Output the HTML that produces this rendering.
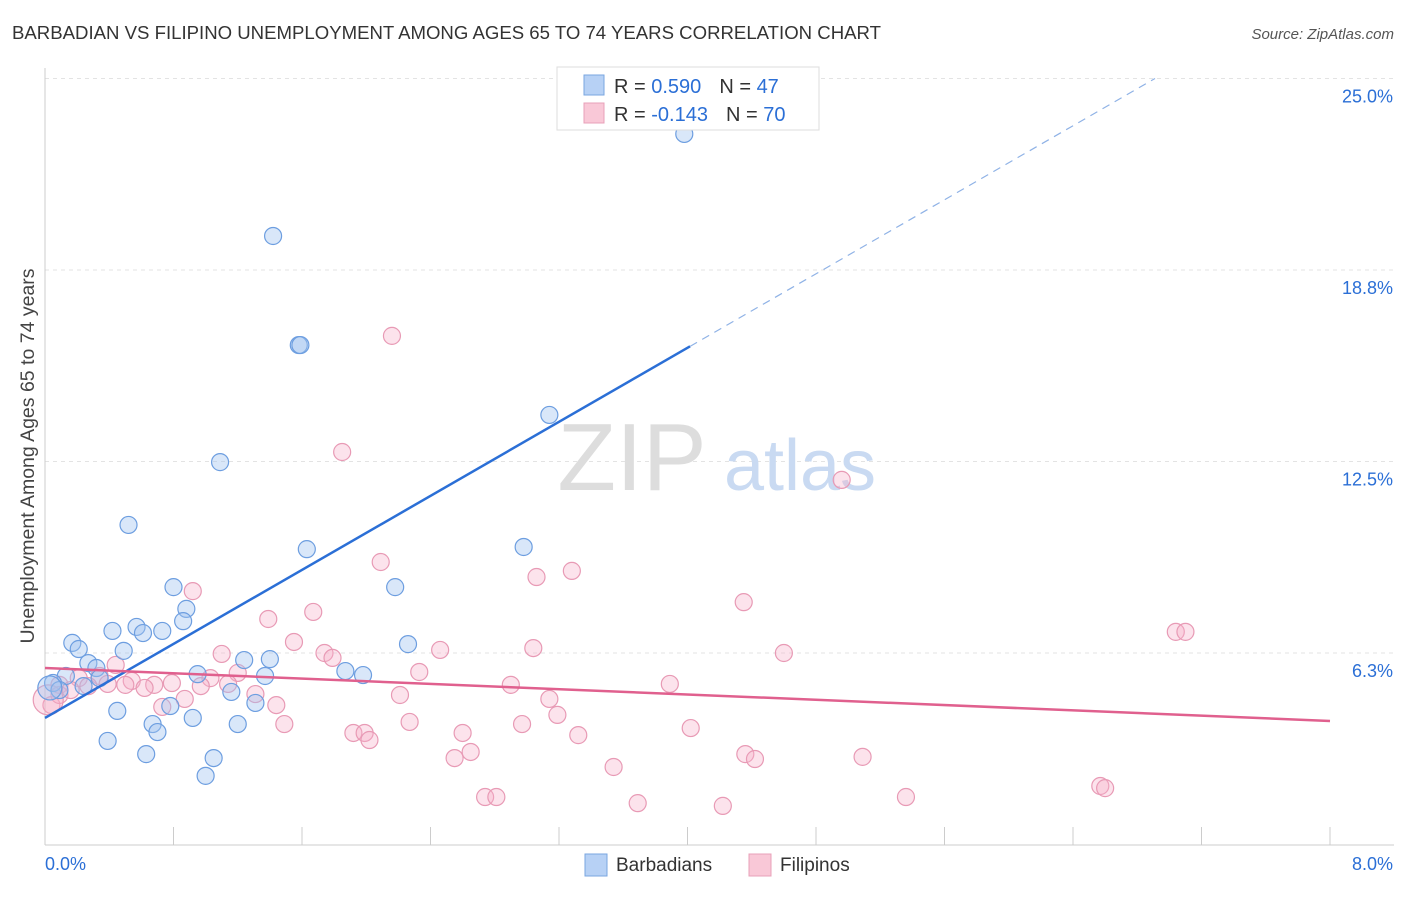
<!DOCTYPE html>
<html><head><meta charset="utf-8"><style>
body{margin:0;background:#fff;font-family:"Liberation Sans",sans-serif;}
svg text{font-family:"Liberation Sans",sans-serif;}
</style></head><body>
<svg id="chart" width="1406" height="892" xmlns="http://www.w3.org/2000/svg">
<text x="12" y="39" font-size="18.6" fill="#333">BARBADIAN VS FILIPINO UNEMPLOYMENT AMONG AGES 65 TO 74 YEARS CORRELATION CHART</text>
<text x="1394" y="39" font-size="15" fill="#555" text-anchor="end" font-style="italic">Source: ZipAtlas.com</text>
<text transform="translate(34,456) rotate(-90)" font-size="19.5" fill="#444" text-anchor="middle">Unemployment Among Ages 65 to 74 years</text>
<g id="grid"></g>
<g id="axes"></g>
<g>
<text x="632" y="490" font-size="96" fill="#ddd" font-family="Liberation Serif" text-anchor="middle">ZIP</text>
<text x="800" y="490" font-size="72" fill="#c9daf2" text-anchor="middle">atlas</text>
</g>
<g id="pts"></g>
<g id="trends"></g>
<g>
<rect x="557" y="67" width="262" height="63" fill="#fff" stroke="#ddd"/>
<rect x="584" y="75" width="20" height="20" fill="#b7d1f5" stroke="#7aa6e0"/>
<rect x="584" y="103" width="20" height="20" fill="#f9c8d7" stroke="#e8a0b8"/>
<text x="614" y="93" font-size="20" fill="#333">R = <tspan fill="#2b6fd6"> 0.590</tspan><tspan dx="18">N = </tspan><tspan fill="#2b6fd6">47</tspan></text>
<text x="614" y="121" font-size="20" fill="#333">R = <tspan fill="#2b6fd6">-0.143</tspan><tspan dx="18">N = </tspan><tspan fill="#2b6fd6">70</tspan></text>
</g>
<g>
<rect x="585" y="854" width="22" height="22" fill="#b7d1f5" stroke="#7aa6e0"/>
<text x="616" y="871" font-size="19" fill="#333">Barbadians</text>
<rect x="749" y="854" width="22" height="22" fill="#f9c8d7" stroke="#e8a0b8"/>
<text x="780" y="871" font-size="19" fill="#333">Filipinos</text>
</g>
</svg>
<script>
const xTicks=[0,0.8,1.6,2.4,3.2,4.0,4.8,5.6,6.4,7.2,8.0];
const yTicks=[6.25,12.5,18.75,25];
const yTickLabels=["6.3%","12.5%","18.8%","25.0%"];
const barbX=[3.98,1.42,1.58,1.59,3.14,1.09,0.52,1.63,2.98,0.80,2.18,0.88,0.86,0.57,0.42,0.61,0.73,0.17,0.21,2.26,0.49,0.27,0.32,1.24,1.40,1.87,1.98,0.95,1.37,0.34,0.13,0.05,0.09,0.24,1.16,1.31,0.78,0.45,0.67,0.70,0.92,1.20,0.39,0.63,1.05,1.00,0.03];
const barbY=[23.19,19.86,16.30,16.30,14.02,12.48,10.43,9.64,9.71,8.40,8.40,7.69,7.29,7.10,6.97,6.90,6.97,6.58,6.38,6.54,6.32,5.92,5.76,6.02,6.05,5.66,5.53,5.56,5.50,5.43,5.50,5.27,5.04,5.17,4.98,4.62,4.52,4.36,3.93,3.67,4.13,3.93,3.38,2.95,2.82,2.24,5.11];
const filX=[2.16,1.85,4.96,2.09,3.06,3.28,0.92,4.35,1.67,1.39,7.04,7.10,1.55,1.10,1.74,3.04,2.46,4.60,1.79,0.44,2.33,1.20,1.03,0.34,0.21,0.54,0.68,0.79,0.50,0.62,0.97,1.14,2.90,3.89,0.39,0.27,0.09,1.31,2.21,0.87,3.14,0.73,1.44,3.19,2.27,1.49,2.97,4.02,1.92,1.99,2.02,3.32,2.60,2.65,2.55,4.36,4.42,5.09,3.54,2.74,2.81,3.69,4.22,5.36,6.57,6.60,0.04,0.09,0.02,0.16];
const filY=[16.60,12.81,11.90,9.22,8.73,8.93,8.27,7.91,7.59,7.36,6.94,6.94,6.61,6.22,6.25,6.41,6.35,6.25,6.09,5.86,5.63,5.60,5.43,5.50,5.43,5.34,5.21,5.27,5.21,5.11,5.17,5.24,5.21,5.24,5.24,5.17,5.21,4.91,4.88,4.75,4.75,4.49,4.55,4.23,4.00,3.93,3.93,3.80,3.64,3.64,3.41,3.57,3.64,3.02,2.82,2.95,2.79,2.86,2.53,1.55,1.55,1.35,1.26,1.55,1.91,1.84,4.55,4.88,4.72,5.04];
const barbTrend=[4.13,3.02];
const filTrend=[5.76,-0.216];
const NS="http://www.w3.org/2000/svg";
const X=v=>45+v/8*1285, Y=v=>844.5-v/6.25*191.5;
function mk(tag,attrs,parent){const e=document.createElementNS(NS,tag);for(const k in attrs)e.setAttribute(k,attrs[k]);parent.appendChild(e);return e;}
const grid=document.getElementById('grid'),axes=document.getElementById('axes');
yTicks.forEach((t,i)=>{
 const l=mk('line',{x1:45,x2:1394,y1:Y(t),y2:Y(t),stroke:'#e3e3e3','stroke-dasharray':'4,4'},grid);
 
 
 const tx=mk('text',{x:1393,y:Y(t)+24,'font-size':18,fill:'#2b6fd6','text-anchor':'end'},axes);
 tx.textContent=yTickLabels[i];
 
 
});
mk('line',{x1:45,x2:45,y1:68,y2:845,stroke:'#ccc'},axes);
mk('line',{x1:45,x2:1394,y1:845,y2:845,stroke:'#ccc'},axes);
xTicks.forEach(t=>{const l=mk('line',{x1:X(t),x2:X(t),y1:827,y2:845,stroke:'#ccc'},axes);
 
 });
let a=mk('text',{x:45,y:870,'font-size':18,fill:'#2b6fd6'},axes);a.textContent='0.0%';


a=mk('text',{x:1393,y:870,'font-size':18,fill:'#2b6fd6','text-anchor':'end'},axes);a.textContent='8.0%';


const pts=document.getElementById('pts');
function dots(xs,ys,fill,stroke,name,bigR){xs.forEach((x,i)=>{
 const big=x<0.035;
 const c=mk('circle',{cx:X(x),cy:Y(ys[i]),r:big?bigR:8.5,fill:fill,stroke:stroke,'stroke-width':1.2},pts);
 
 });}
dots(filX,filY,'rgba(246,175,200,0.35)','#e89ab5','filipino-point',15);
dots(barbX,barbY,'rgba(160,196,240,0.4)','#6d9ee0','barbadian-point',12);
const tr=document.getElementById('trends');
const bx1=4.016,bxEnd=(25-barbTrend[0])/barbTrend[1];
let l=mk('line',{x1:X(0),y1:Y(barbTrend[0]),x2:X(bx1),y2:Y(barbTrend[0]+barbTrend[1]*bx1),stroke:'#2b6fd6','stroke-width':2.5},tr);


l=mk('line',{x1:X(bx1),y1:Y(barbTrend[0]+barbTrend[1]*bx1),x2:X(bxEnd),y2:Y(25),stroke:'#8fb2e6','stroke-width':1.2,'stroke-dasharray':'8,6'},tr);


l=mk('line',{x1:X(0),y1:Y(filTrend[0]),x2:X(8),y2:Y(filTrend[0]+filTrend[1]*8),stroke:'#e0608e','stroke-width':2.5},tr);


</script>
</body></html>
